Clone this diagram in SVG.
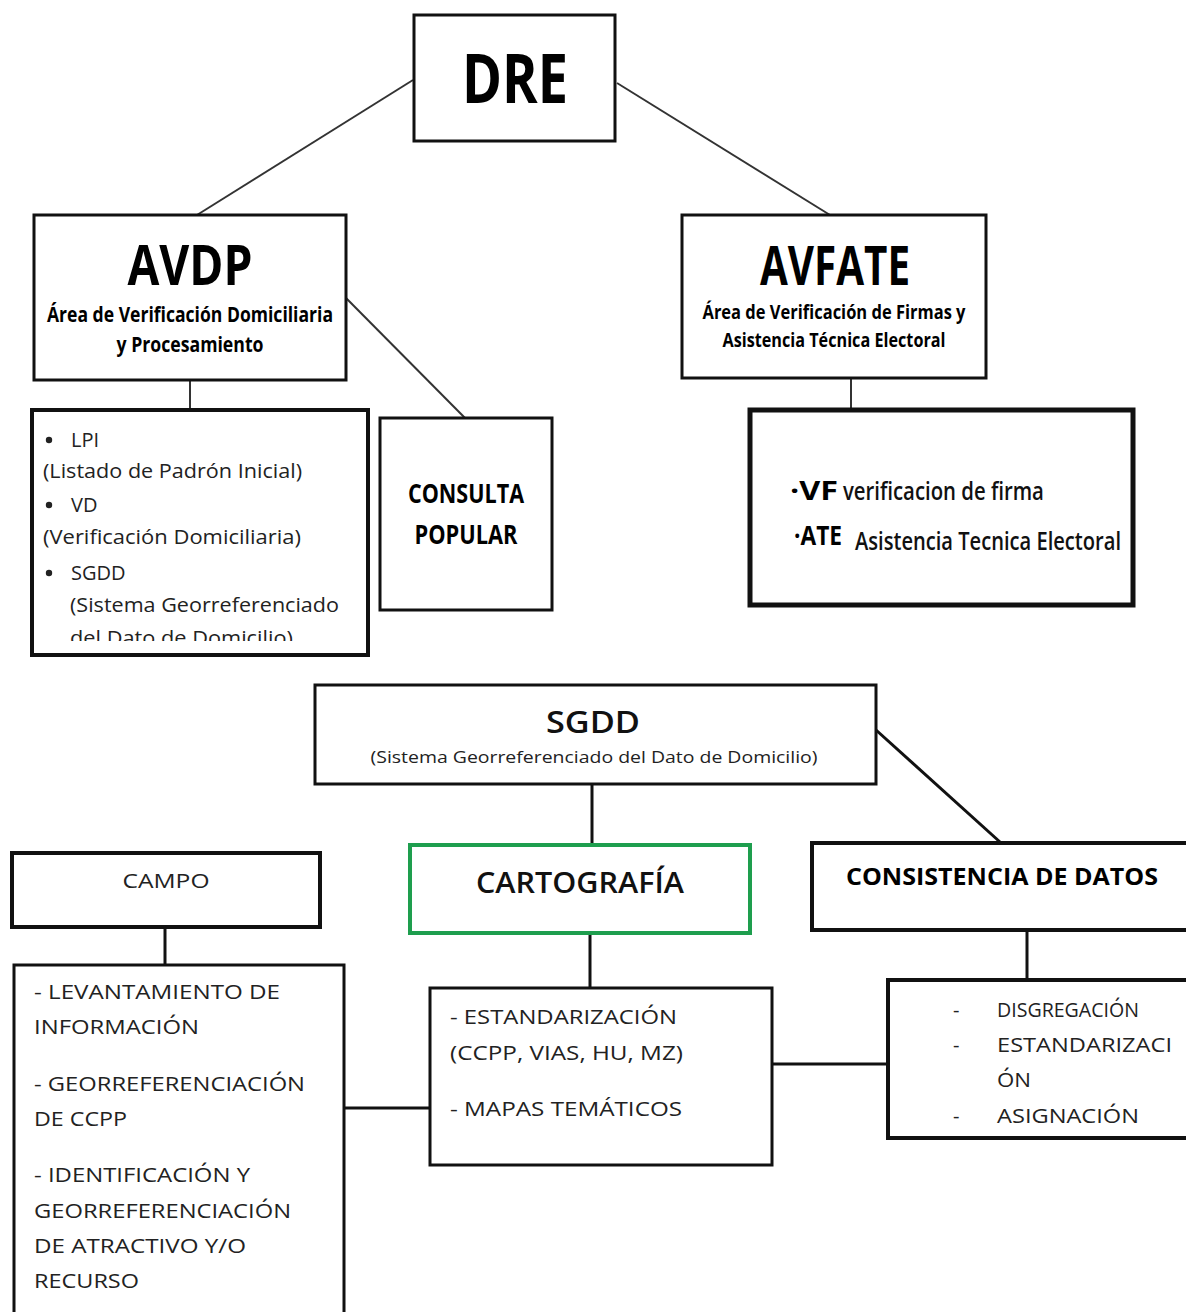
<svg xmlns="http://www.w3.org/2000/svg" width="1186" height="1312" viewBox="0 0 1186 1312">
<defs>
<style>
.box{fill:#fff;stroke:#111;}
.conn line{stroke:#333;}
.hd{font-family:"Open Sans","Liberation Sans",sans-serif;font-weight:bold;fill:#000;}
.sub{font-family:"Open Sans","Liberation Sans",sans-serif;font-weight:600;fill:#111;}
.bd{font-family:"Open Sans","Liberation Sans",sans-serif;fill:#222;}
</style>
<clipPath id="clipLpi"><rect x="34" y="412" width="332" height="229"/></clipPath>
</defs>
<rect width="1186" height="1312" fill="#fff"/>
<g id="connectors">
<g class="conn">
<line x1="413" y1="80" x2="197" y2="215" stroke-width="2"/>
<line x1="617" y1="83" x2="830" y2="215" stroke-width="2"/>
<line x1="190" y1="380" x2="190" y2="410" stroke-width="2"/>
<line x1="346" y1="298" x2="465" y2="418" stroke-width="2"/>
<line x1="851" y1="378" x2="851" y2="410" stroke-width="2"/>
</g>
<g stroke="#111">
<line x1="592" y1="784" x2="592" y2="845" stroke-width="3"/>
<line x1="876" y1="730" x2="1000" y2="842" stroke-width="3"/>
<line x1="165" y1="927" x2="165" y2="965" stroke-width="3"/>
<line x1="590" y1="933" x2="590" y2="988" stroke-width="3"/>
<line x1="344" y1="1108" x2="430" y2="1108" stroke-width="3"/>
<line x1="772" y1="1064" x2="888" y2="1064" stroke-width="3"/>
<line x1="1027" y1="930" x2="1027" y2="980" stroke-width="3"/>
</g>
</g>
<g id="dre">
<rect class="box" x="414" y="15" width="201" height="126" stroke-width="3"/>
<text class="hd" x="515" y="103" font-size="68" text-anchor="middle" textLength="106" lengthAdjust="spacingAndGlyphs">DRE</text>
</g>
<g id="avdp">
<rect class="box" x="34" y="215" width="312" height="165" stroke-width="3"/>
<text class="hd" x="190" y="285" font-size="56" text-anchor="middle" textLength="125" lengthAdjust="spacingAndGlyphs">AVDP</text>
<text class="hd" x="190" y="322" font-size="21" text-anchor="middle" textLength="286" lengthAdjust="spacingAndGlyphs">Área de Verificación Domiciliaria</text>
<text class="hd" x="190" y="352" font-size="21" text-anchor="middle" textLength="147" lengthAdjust="spacingAndGlyphs">y Procesamiento</text>
</g>
<g id="avfate">
<rect class="box" x="682" y="215" width="304" height="163" stroke-width="3"/>
<text class="hd" x="835" y="285" font-size="53" text-anchor="middle" textLength="150" lengthAdjust="spacingAndGlyphs">AVFATE</text>
<text class="hd" x="834" y="319" font-size="20" text-anchor="middle" textLength="263" lengthAdjust="spacingAndGlyphs">Área de Verificación de Firmas y</text>
<text class="hd" x="834" y="347" font-size="20" text-anchor="middle" textLength="223" lengthAdjust="spacingAndGlyphs">Asistencia Técnica Electoral</text>
</g>
<g id="lpi-list">
<rect class="box" x="32" y="410" width="336" height="245" stroke-width="4"/>
<g clip-path="url(#clipLpi)" font-size="20">
<circle cx="49" cy="440" r="3.2" fill="#222"/>
<text class="bd" x="71" y="447">LPI</text>
<text class="bd" x="43" y="478" textLength="259" lengthAdjust="spacingAndGlyphs">(Listado de Padrón Inicial)</text>
<circle cx="49" cy="505" r="3.2" fill="#222"/>
<text class="bd" x="71" y="512">VD</text>
<text class="bd" x="43" y="544" textLength="258" lengthAdjust="spacingAndGlyphs">(Verificación Domiciliaria)</text>
<circle cx="49" cy="573" r="3.2" fill="#222"/>
<text class="bd" x="71" y="580">SGDD</text>
<text class="bd" x="70" y="612" textLength="269" lengthAdjust="spacingAndGlyphs">(Sistema Georreferenciado</text>
<text class="bd" x="70" y="645" textLength="223" lengthAdjust="spacingAndGlyphs">del Dato de Domicilio)</text>
</g>
</g>
<g id="consulta">
<rect class="box" x="380" y="418" width="172" height="192" stroke-width="3"/>
<text class="hd" x="466" y="503" font-size="26" text-anchor="middle" textLength="116" lengthAdjust="spacingAndGlyphs">CONSULTA</text>
<text class="hd" x="466" y="544" font-size="26" text-anchor="middle" textLength="103" lengthAdjust="spacingAndGlyphs">POPULAR</text>
</g>
<g id="vf-list">
<rect class="box" x="750" y="410" width="383" height="195" stroke-width="5"/>
<text class="hd" x="790" y="500" font-size="26" textLength="48" lengthAdjust="spacingAndGlyphs">·VF</text>
<g transform="translate(843,500) scale(0.7,1)">
<text class="sub" x="0" y="0" font-size="26" font-weight="normal" textLength="287" lengthAdjust="spacingAndGlyphs">verificacion de firma</text>
</g>
<text class="hd" x="794" y="545" font-size="26" textLength="48" lengthAdjust="spacingAndGlyphs">·ATE</text>
<g transform="translate(855,550) scale(0.7,1)">
<text class="sub" x="0" y="0" font-size="26" font-weight="normal" textLength="380" lengthAdjust="spacingAndGlyphs">Asistencia Tecnica Electoral</text>
</g>
</g>
<g id="sgdd">
<rect class="box" x="315" y="685" width="561" height="99" stroke-width="3"/>
<text class="sub" x="593" y="733" font-size="31" text-anchor="middle" textLength="94" lengthAdjust="spacingAndGlyphs">SGDD</text>
<text class="bd" x="594" y="763" font-size="17" text-anchor="middle" textLength="447" lengthAdjust="spacingAndGlyphs">(Sistema Georreferenciado del Dato de Domicilio)</text>
</g>
<g id="campo">
<rect class="box" x="12" y="853" width="308" height="74" stroke-width="4"/>
<text class="bd" x="166" y="888" font-size="20" text-anchor="middle" textLength="87" lengthAdjust="spacingAndGlyphs">CAMPO</text>
</g>
<g id="cartografia">
<rect x="410" y="845" width="340" height="88" fill="#fff" stroke="#1e9e4e" stroke-width="4"/>
<text class="sub" x="580" y="893" font-size="29" text-anchor="middle" textLength="208" lengthAdjust="spacingAndGlyphs">CARTOGRAFÍA</text>
</g>
<g id="consistencia">
<rect class="box" x="812" y="843" width="380" height="87" stroke-width="4"/>
<text class="hd" x="846" y="885" font-size="23" textLength="312" lengthAdjust="spacingAndGlyphs">CONSISTENCIA DE DATOS</text>
</g>
<g id="campo-list">
<rect class="box" x="14" y="965" width="330" height="360" stroke-width="3"/>
<g font-size="20">
<text class="bd" x="34" y="999" textLength="246" lengthAdjust="spacingAndGlyphs">- LEVANTAMIENTO DE</text>
<text class="bd" x="34" y="1034" textLength="165" lengthAdjust="spacingAndGlyphs">INFORMACIÓN</text>
<text class="bd" x="34" y="1091" textLength="271" lengthAdjust="spacingAndGlyphs">- GEORREFERENCIACIÓN</text>
<text class="bd" x="34" y="1126" textLength="93" lengthAdjust="spacingAndGlyphs">DE CCPP</text>
<text class="bd" x="34" y="1182" textLength="216" lengthAdjust="spacingAndGlyphs">- IDENTIFICACIÓN Y</text>
<text class="bd" x="34" y="1218" textLength="257" lengthAdjust="spacingAndGlyphs">GEORREFERENCIACIÓN</text>
<text class="bd" x="34" y="1253" textLength="212" lengthAdjust="spacingAndGlyphs">DE ATRACTIVO Y/O</text>
<text class="bd" x="34" y="1288" textLength="105" lengthAdjust="spacingAndGlyphs">RECURSO</text>
</g>
</g>
<g id="cartografia-list">
<rect class="box" x="430" y="988" width="342" height="177" stroke-width="3"/>
<g font-size="20">
<text class="bd" x="450" y="1024" textLength="227" lengthAdjust="spacingAndGlyphs">- ESTANDARIZACIÓN</text>
<text class="bd" x="450" y="1060" textLength="233" lengthAdjust="spacingAndGlyphs">(CCPP, VIAS, HU, MZ)</text>
<text class="bd" x="450" y="1116" textLength="232" lengthAdjust="spacingAndGlyphs">- MAPAS TEMÁTICOS</text>
</g>
</g>
<g id="consistencia-list">
<rect class="box" x="888" y="980" width="310" height="158" stroke-width="4"/>
<g font-size="20">
<text class="bd" x="953" y="1017">-</text>
<text class="bd" x="997" y="1017" textLength="142" lengthAdjust="spacingAndGlyphs">DISGREGACIÓN</text>
<text class="bd" x="953" y="1052">-</text>
<text class="bd" x="997" y="1052" textLength="175" lengthAdjust="spacingAndGlyphs">ESTANDARIZACI</text>
<text class="bd" x="997" y="1087" textLength="34" lengthAdjust="spacingAndGlyphs">ÓN</text>
<text class="bd" x="953" y="1123">-</text>
<text class="bd" x="997" y="1123" textLength="142" lengthAdjust="spacingAndGlyphs">ASIGNACIÓN</text>
</g>
</g>
</svg>
